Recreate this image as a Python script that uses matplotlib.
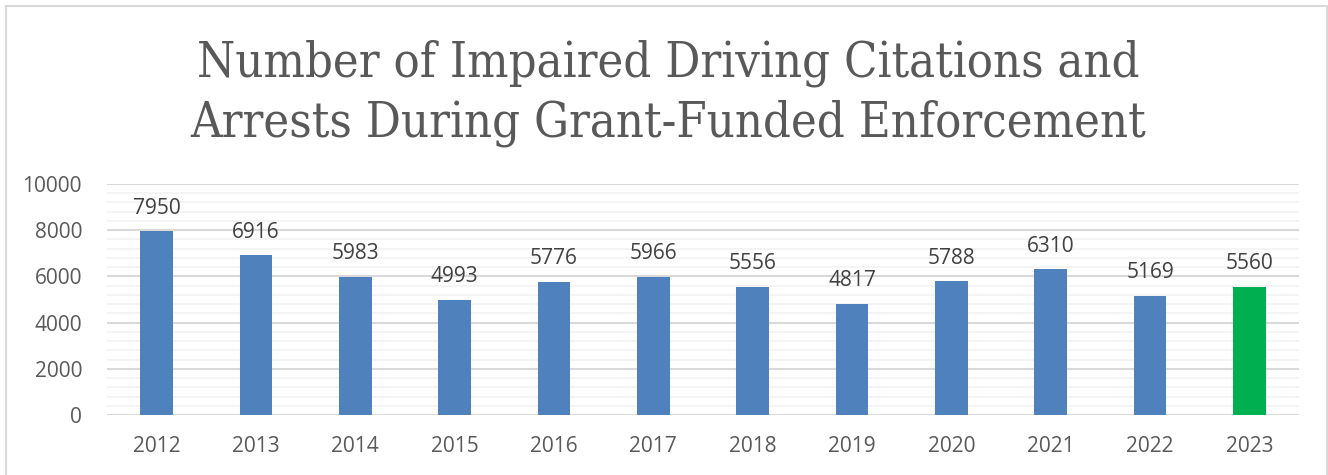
import numpy as np
import matplotlib
matplotlib.use("Agg")
from matplotlib import pyplot as plt
from matplotlib.patches import Rectangle
from matplotlib.ticker import MultipleLocator

years = ['2012', '2013', '2014', '2015', '2016', '2017', '2018', '2019', '2020', '2021', '2022', '2023']
counts = [7950, 6916, 5983, 4993, 5776, 5966, 5556, 4817, 5788, 6310, 5169, 5560]
title = 'Number of Impaired Driving Citations and\nArrests During Grant-Funded Enforcement'

blue = '#4f81bd'
green = '#00b050'
grey = '#595959'


def main():
	fig = plt.figure(figsize=(13.28, 4.75), dpi=100)
	fig.patch.set_facecolor('white')

	# outer chart frame
	fig.patches.append(Rectangle((6 / 1328, -0.05), 1321 / 1328, 1.05 - 6 / 475,
		transform=fig.transFigure, fill=False, edgecolor='#d9d9d9', linewidth=1.5))

	ax = fig.add_axes([107 / 1328, 1 - 415 / 475, 1192 / 1328, 231 / 475])

	x = np.arange(len(years))
	colors = [blue] * (len(years) - 1) + [green]
	bars = ax.bar(x, counts, width=0.33, color=colors, zorder=3)

	for b, v in zip(bars, counts):
		ax.text(b.get_x() + b.get_width() / 2, v + 550, str(v), ha='center', va='bottom',
			fontsize=15, color='#404040', family='Open Sans')

	ax.set_xlim(-0.5, len(years) - 0.5)
	ax.set_ylim(0, 10000)
	ax.yaxis.set_major_locator(MultipleLocator(2000))
	ax.yaxis.set_minor_locator(MultipleLocator(400))
	ax.grid(axis='y', which='major', color='#d9d9d9', linewidth=1.5, zorder=0)
	ax.grid(axis='y', which='minor', color='#f2f2f2', linewidth=1.2, zorder=0)

	ax.set_xticks(x)
	ax.set_xticklabels(years)
	for s in ax.spines.values():
		s.set_visible(False)
	ax.tick_params(axis='both', which='both', length=0, labelsize=15, labelcolor=grey)
	ax.tick_params(axis='y', pad=18)
	ax.tick_params(axis='x', pad=15)
	for lbl in ax.get_xticklabels() + ax.get_yticklabels():
		lbl.set_family('Open Sans')

	fig.text(668 / 1328, 1 - 93 / 475, title, ha='center', va='center', fontsize=35,
		color=grey, family='DejaVu Serif', fontstretch='condensed', linespacing=1.33)

	fig.savefig('out.png', dpi=100)


if __name__ == "__main__":
	main()
